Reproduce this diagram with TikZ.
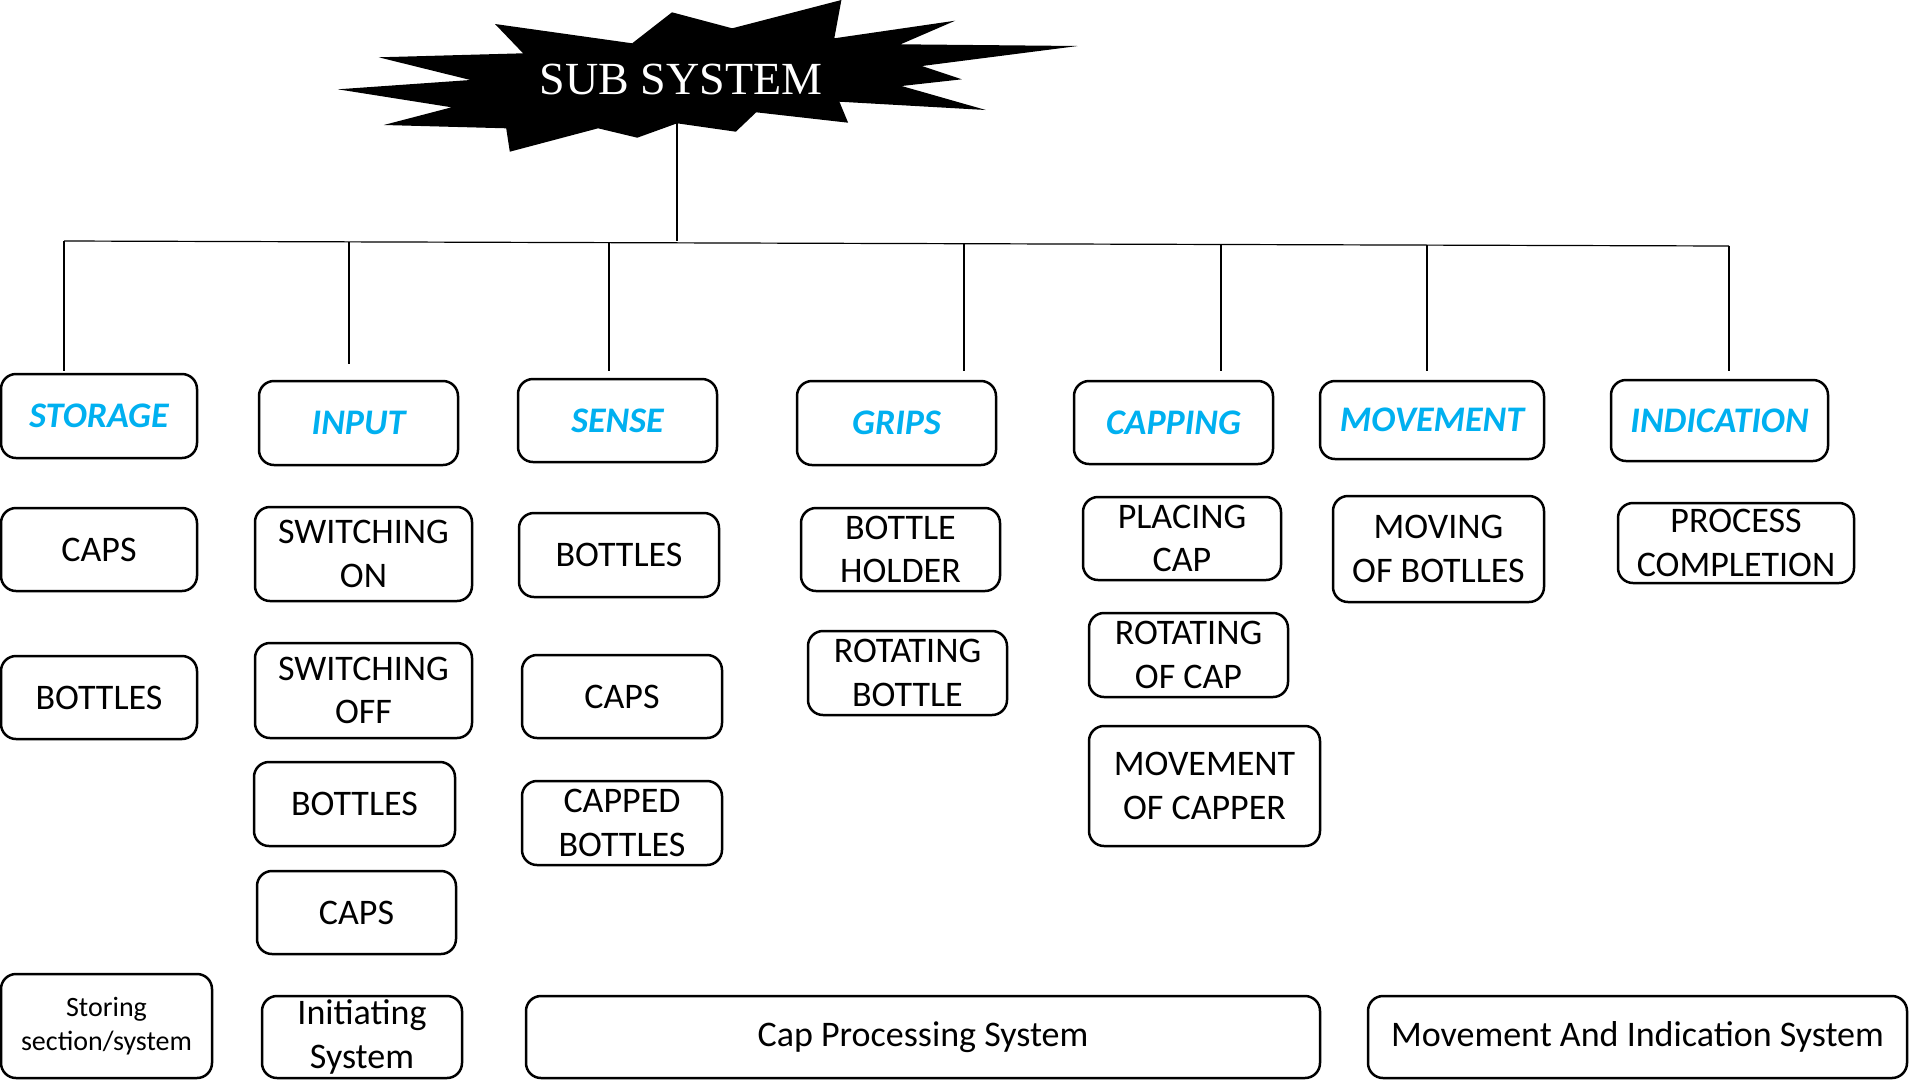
\documentclass[tikz,border=0pt]{standalone}
\usepackage{fontspec}
\setmainfont{Carlito}
\newfontfamily\titlefont{Liberation Serif}
\definecolor{hdrblue}{RGB}{0,176,240}
\newcommand{\mkbox}[7]{%
  \node[#1, minimum width={(#5)-(#3)}, minimum height={(#6)-(#4)}] (#2)
    at ({((#3)+(#5))/2},{((#4)+(#6))/2}) {#7};}
\begin{document}
\begin{tikzpicture}[x=1pt,y=-1pt,
  box/.style={draw=black, line width=2.5pt, rounded corners=15pt, inner sep=0pt,
    align=center, font=\fontsize{36}{43.5}\selectfont},
  hdr/.style={box, font=\fontsize{36}{43.5}\selectfont\bfseries\itshape, text=hdrblue},
  smallbox/.style={box, font=\fontsize{28}{34}\selectfont},
  conn/.style={draw=black, line width=1.2pt}]
\useasboundingbox[fill=white] (0,0) rectangle (1920,1080);

% starburst
\fill[black] (337.9,89.3) -- (470.5,80) -- (378.7,57.3) -- (523.1,53.3) -- (495,24)
  -- (632.2,43.3) -- (672,12.3) -- (732.2,28.3) -- (841.4,0) -- (834.3,38.3)
  -- (955.2,20.7) -- (900.6,44.3) -- (1077.7,46) -- (922,66) -- (961.8,79.3)
  -- (901.6,86) -- (985.8,110) -- (839.4,101.7) -- (848.1,122.7) -- (756.2,112.3)
  -- (735.8,131.7) -- (677.1,123.3) -- (637.3,137.7) -- (598.1,128.3)
  -- (509.8,151.7) -- (506.2,128.3) -- (383.8,125) -- (451.6,107.3) -- cycle;
\node[font=\titlefont\fontsize{46}{50}\selectfont, text=white, inner sep=0pt] (title) at (681,79) {SUB SYSTEM};
\coordinate (burst) at (677,123);

% bus
\coordinate (hub) at (677,240.8);
\coordinate (bL) at (64,241);
\coordinate (bR) at (1729,246);
\draw[conn] (burst) -- (hub);
\draw[conn] (bL) -- (bR);

\coordinate (t1) at (64,241);    \coordinate (e1) at (64,371);
\coordinate (t2) at (349,241.9); \coordinate (e2) at (349,364);
\coordinate (t3) at (609,242.6); \coordinate (e3) at (609,371);
\coordinate (t4) at (964,243.7); \coordinate (e4) at (964,371);
\coordinate (t5) at (1221,244.5);\coordinate (e5) at (1221,371);
\coordinate (t6) at (1427,245.1);\coordinate (e6) at (1427,371);
\coordinate (t7) at (1729,246);  \coordinate (e7) at (1729,371);
\foreach \i in {1,...,7} {\draw[conn] (t\i) -- (e\i);}

% headers
\mkbox{hdr}{storage}{1}{374}{197}{458}{STORAGE}
\mkbox{hdr}{input}{259}{381}{458}{465}{INPUT}
\mkbox{hdr}{sense}{518}{379}{717}{462}{SENSE}
\mkbox{hdr}{grips}{797}{381}{996}{465}{GRIPS}
\mkbox{hdr}{capping}{1074}{381}{1273}{464}{CAPPING}
\mkbox{hdr}{movement}{1320}{381}{1544}{459}{MOVEMENT}
\mkbox{hdr}{indication}{1611}{380}{1828}{461}{INDICATION}

% items
\mkbox{box}{s1}{1}{508}{197}{591}{CAPS}
\mkbox{box}{s2}{1}{656}{197}{739}{BOTTLES}
\mkbox{box}{i1}{255}{507}{472}{601}{SWITCHING\\ON}
\mkbox{box}{i2}{255}{643}{472}{738}{SWITCHING\\OFF}
\mkbox{box}{i3}{254}{762}{455}{846}{BOTTLES}
\mkbox{box}{i4}{257}{871}{456}{954}{CAPS}
\mkbox{box}{se1}{519}{513}{719}{597}{BOTTLES}
\mkbox{box}{se2}{522}{655}{722}{738}{CAPS}
\mkbox{box}{se3}{522}{781}{722}{865}{CAPPED\\BOTTLES}
\mkbox{box}{g1}{801}{508}{1000}{591}{BOTTLE\\HOLDER}
\mkbox{box}{g2}{808}{631}{1007}{715}{ROTATING\\BOTTLE}
\mkbox{box}{c1}{1083}{497}{1281}{580}{PLACING\\CAP}
\mkbox{box}{c2}{1089}{613}{1288}{697}{ROTATING\\OF CAP}
\mkbox{box}{c3}{1089}{726}{1320}{846}{MOVEMENT\\OF CAPPER}
\mkbox{box}{m1}{1333}{496}{1544}{602}{MOVING\\OF BOTLLES}
\mkbox{box}{n1}{1618}{503}{1854}{583}{PROCESS\\COMPLETION}

% bottom row
\mkbox{smallbox}{b1}{1}{974}{212}{1078}{Storing\\section/system}
\mkbox{box}{b2}{262}{996}{462}{1078}{Initiating\\System}
\mkbox{box}{b3}{526}{996}{1320}{1078}{Cap Processing System}
\mkbox{box}{b4}{1368}{996}{1907}{1078}{Movement And Indication System}
\end{tikzpicture}
\end{document}
